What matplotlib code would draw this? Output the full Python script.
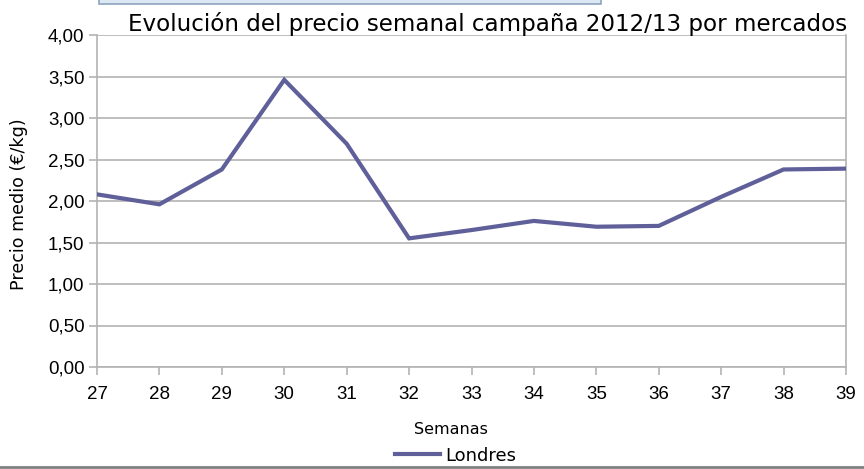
import matplotlib.pyplot as plt
from matplotlib.patches import Rectangle
from matplotlib.lines import Line2D

# Data
semanas = [27, 28, 29, 30, 31, 32, 33, 34, 35, 36, 37, 38, 39]
londres = [2.08, 1.96, 2.38, 3.46, 2.69, 1.55, 1.65, 1.76, 1.69, 1.70, 2.05, 2.38, 2.39]
yticks = [0, 0.5, 1.0, 1.5, 2.0, 2.5, 3.0, 3.5, 4.0]

W, H = 864, 469
fig = plt.figure(figsize=(W / 100, H / 100), dpi=100)
ax = fig.add_axes([97 / W, 1 - 367 / H, (846 - 97) / W, (367 - 35) / H])

grid_col = '#b3b3b3'
line_col = '#5f5f9a'

ax.plot(semanas, londres, color=line_col, lw=3.0, solid_joinstyle='miter', zorder=3)
ax.set_xlim(27, 39)
ax.set_ylim(0, 4)
ax.set_xticks(semanas)
ax.set_yticks(yticks)
ax.set_yticklabels([('%.2f' % v).replace('.', ',') for v in yticks])
ax.grid(axis='y', color=grid_col, lw=1.2)
ax.set_axisbelow(True)
for s in ax.spines.values():
    s.set_color(grid_col)
    s.set_linewidth(1.2)
ax.spines['top'].set_visible(False)
ax.tick_params(colors=grid_col, length=6, width=1.2, labelcolor='black',
               labelsize=13.5, pad=3)
ax.tick_params(axis='x', pad=8)
for lab in ax.get_xticklabels() + ax.get_yticklabels():
    lab.set_family('Liberation Sans')

# Titles and labels
fig.text(847 / W, 1 - 24 / H, 'Evolución del precio semanal campaña 2012/13 por mercados',
         ha='right', va='center', fontsize=16.6, family='DejaVu Sans')
fig.text(19 / W, 1 - 204 / H, 'Precio medio (€/kg)', rotation=90, ha='center',
         va='center', fontsize=12.6, family='DejaVu Sans')
fig.text(451 / W, 1 - 429 / H, 'Semanas', ha='center', va='center', fontsize=11.5,
         family='DejaVu Sans')

# Legend
fig.add_artist(Line2D([395 / W, 440 / W], [1 - 454 / H] * 2, color=line_col, lw=3.0))
fig.text(445 / W, 1 - 456 / H, 'Londres', ha='left', va='center', fontsize=13,
         family='DejaVu Sans')

# Cut-off box at top and bottom rule
fig.add_artist(Rectangle((99 / W, 1 - 4 / H), (601 - 99) / W, 8 / H,
                         facecolor='#dbe7f3', edgecolor='#8fa4bf', lw=1.2))
fig.add_artist(Line2D([0, 1], [1 - 467 / H] * 2, color='#808080', lw=2))

fig.savefig('out.png', dpi=100)
